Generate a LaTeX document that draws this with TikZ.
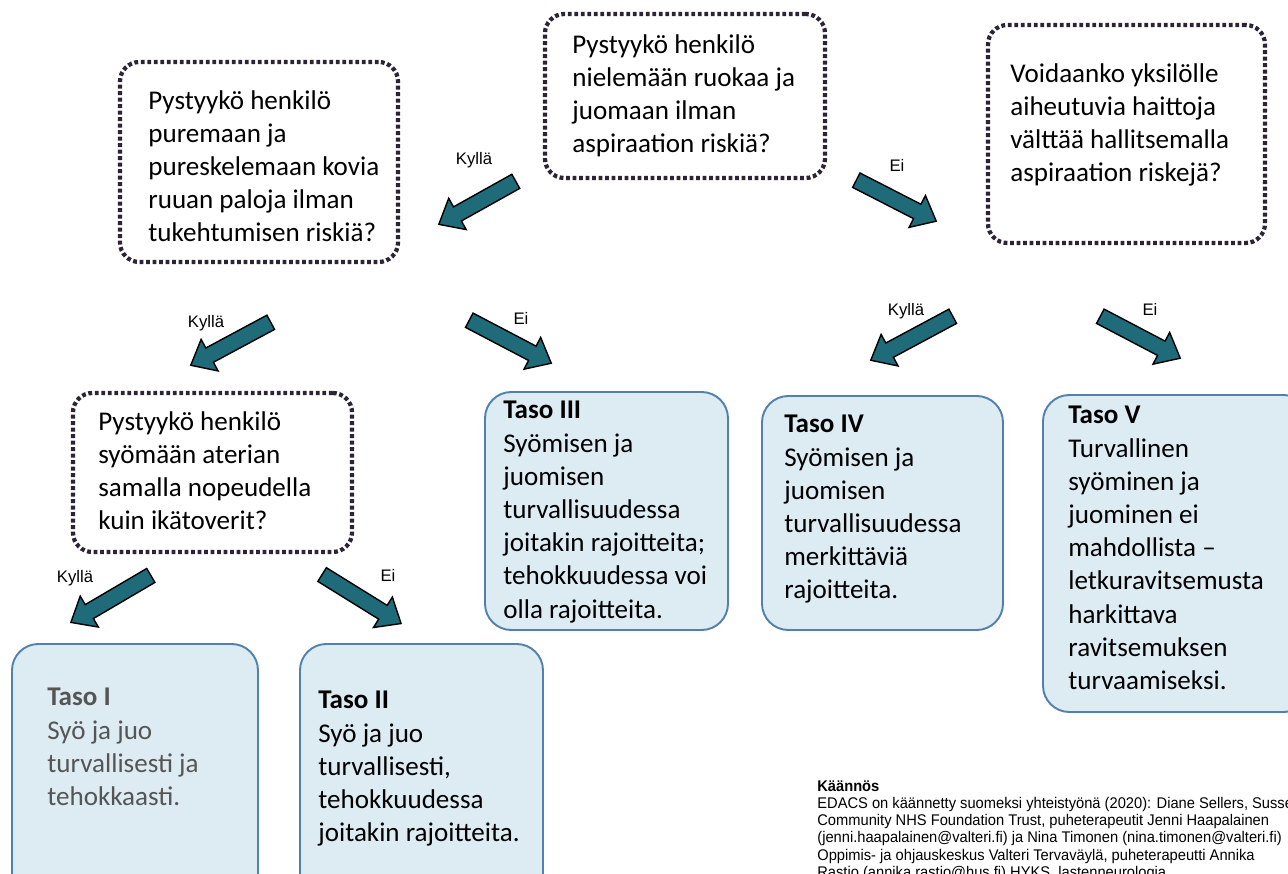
\documentclass[tikz,border=0pt]{standalone}
\usepackage{fontspec}
\setmainfont{Carlito}
\newfontfamily\arialf{Liberation Sans}
\newfontfamily\arialn[FakeStretch=0.95]{Liberation Sans}
\usetikzlibrary{shapes.arrows,calc,fit}
\definecolor{tealarrow}{RGB}{31,107,122}
\definecolor{boxfill}{RGB}{221,236,243}
\definecolor{boxline}{RGB}{84,128,172}
\definecolor{dotline}{RGB}{45,35,55}
\definecolor{grayText}{RGB}{85,85,85}
\tikzset{
  qbox/.style={draw=dotline, line width=2.4pt, dash pattern=on 2.2pt off 1.5pt, rounded corners=11pt, inner sep=0pt},
  lbox/.style={draw=boxline, line width=1.1pt, fill=boxfill, rounded corners=15pt, inner sep=0pt},
  txt/.style={align=left, inner sep=0pt, anchor=north west, font=\fontsize{15.4}{18.9}\selectfont},
  lab/.style={inner sep=0pt, font=\arialf\fontsize{9.5}{11}\selectfont},
  barrow/.style={single arrow, draw=black, line width=0.8pt, fill=tealarrow, inner xsep=0pt, inner ysep=4.2pt,
    single arrow head extend=5.6pt, single arrow tip angle=80},
}
\newcommand\blockarr[3]{%
  \path let \p1=($(#2)-(#1)$), \n1={atan2(\y1,\x1)}, \n2={veclen(\x1,\y1)} in
    node[barrow, minimum height=\n2, rotate=\n1] (#3) at ($(#1)!0.5!(#2)$) {};}
\begin{document}
\begin{tikzpicture}[x=0.02cm,y=-0.02cm]
\useasboundingbox (0,0) rectangle (1288,874);
\clip (0,0) rectangle (1288,874);
\fill[white] (0,0) rectangle (1288,874);

% question boxes
\node[qbox, fit={(120,62) (398,262)}] (q1) {};
\node[qbox, fit={(545,14) (825,178)}] (q2) {};
\node[qbox, fit={(988,25) (1265,243)}] (q3) {};
\node[qbox, fit={(73,393) (352,552)}] (q4) {};

% level boxes
\node[lbox, fit={(485,392) (728,630)}] (l3) {};
\node[lbox, fit={(762,396) (1003,630)}] (l4) {};
\node[lbox, fit={(1043,395) (1310,712)}] (l5) {};
\node[lbox, fit={(12,644) (258,910)}] (l1) {};
\node[lbox, fit={(300,644) (543,910)}] (l2) {};

% texts
\node[txt] (tq1) at (148,90) {Pystyykö henkilö\\puremaan ja\\pureskelemaan kovia\\ruuan paloja ilman\\tukehtumisen riskiä?};
\node[txt] (tq2) at (572,34) {Pystyykö henkilö\\nielemään ruokaa ja\\juomaan ilman\\aspiraation riskiä?};
\node[txt] (tq3) at (1010,63) {Voidaanko yksilölle\\aiheutuvia haittoja\\välttää hallitsemalla\\aspiraation riskejä?};
\node[txt] (tq4) at (98,411) {Pystyykö henkilö\\syömään aterian\\samalla nopeudella\\kuin ikätoverit?};
\node[txt] (tl3) at (503,401) {\textbf{Taso III}\\Syömisen ja\\juomisen\\turvallisuudessa\\joitakin rajoitteita;\\tehokkuudessa voi\\olla rajoitteita.};
\node[txt] (tl4) at (784,415) {\textbf{Taso IV}\\Syömisen ja\\juomisen\\turvallisuudessa\\merkittäviä\\rajoitteita.};
\node[txt] (tl5) at (1068,406) {\textbf{Taso V}\\Turvallinen\\syöminen ja\\juominen ei\\mahdollista --\\letkuravitsemusta\\harkittava\\ravitsemuksen\\turvaamiseksi.};
\node[txt, text=grayText] (tl1) at (47,688) {\textbf{Taso I}\\Syö ja juo\\turvallisesti ja\\tehokkaasti.};
\node[txt] (tl2) at (318,691) {\textbf{Taso II}\\Syö ja juo\\turvallisesti,\\tehokkuudessa\\joitakin rajoitteita.};

% arrows
\coordinate (a1t) at (520,179); \coordinate (a1h) at (443,222);
\coordinate (a2t) at (852,178); \coordinate (a2h) at (932,219);
\coordinate (a3t) at (275,320); \coordinate (a3h) at (195,363);
\coordinate (a4t) at (465,318); \coordinate (a4h) at (547,361);
\coordinate (a5t) at (957,314); \coordinate (a5h) at (875,358);
\coordinate (a6t) at (1096,314); \coordinate (a6h) at (1176,356);
\coordinate (a7t) at (155,573); \coordinate (a7h) at (75,620);
\coordinate (a8t) at (318,572); \coordinate (a8h) at (397,621);
\blockarr{a1t}{a1h}{a1}
\blockarr{a2t}{a2h}{a2}
\blockarr{a3t}{a3h}{a3}
\blockarr{a4t}{a4h}{a4}
\blockarr{a5t}{a5h}{a5}
\blockarr{a6t}{a6h}{a6}
\blockarr{a7t}{a7h}{a7}
\blockarr{a8t}{a8h}{a8}

% labels
\node[lab] (k1) at (474,160) {Kyllä};
\node[lab] (e1) at (897,165) {Ei};
\node[lab] (k2) at (206,323) {Kyllä};
\node[lab] (e2) at (521,318) {Ei};
\node[lab] (k3) at (906,311) {Kyllä};
\node[lab] (e3) at (1150,309) {Ei};
\node[lab] (k4) at (75,578) {Kyllä};
\node[lab] (e4) at (388,575) {Ei};

% footnote
\node[align=left, inner sep=0pt, anchor=north west, font=\arialn\fontsize{8.8}{9.85}\selectfont] (note) at (817,780)
 {\textbf{Käännös}\\EDACS on käännetty suomeksi yhteistyönä (2020): Diane Sellers, Sussex\\Community NHS Foundation Trust, puheterapeutit Jenni Haapalainen\\(jenni.haapalainen@valteri.fi) ja Nina Timonen (nina.timonen@valteri.fi)\\Oppimis- ja ohjauskeskus Valteri Tervaväylä, puheterapeutti Annika\\Rastio (annika.rastio@hus.fi) HYKS, lastenneurologia};
\end{tikzpicture}
\end{document}
